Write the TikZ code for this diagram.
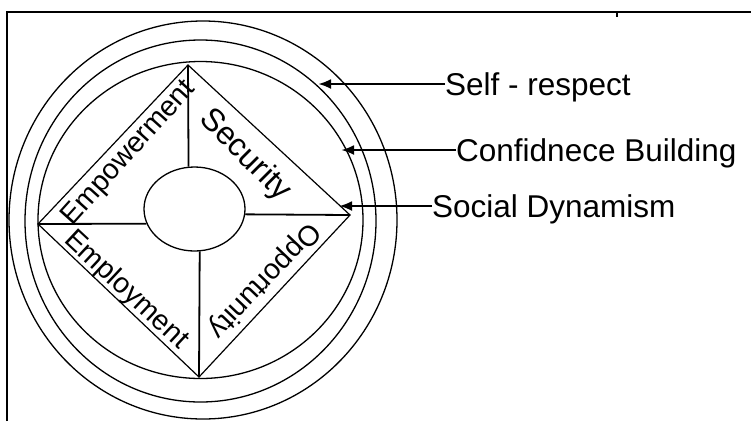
\documentclass[tikz,border=0pt]{standalone}
\usepackage{fontspec}
\setmainfont{Liberation Sans}
\usetikzlibrary{arrows.meta,shapes.geometric}
\begin{document}
\begin{tikzpicture}[x=1pt,y=-1pt,
  ring/.style={line width=1.3pt},
  edge/.style={line width=1.2pt},
  spoke/.style={line width=1.8pt},
  pointer/.style={line width=2.6pt,-{Latex[length=13pt,width=10pt]}},
  lbl/.style={inner sep=0pt,anchor=west,text height=22.5pt,text depth=0pt,font=\fontsize{31.5}{36}\selectfont},
  seg/.style={inner sep=0pt,text height=20.5pt,text depth=0pt,font=\fontsize{28.5}{33}\selectfont}]
\useasboundingbox (0,0) rectangle (751,421);
\fill[white] (0,0) rectangle (751,421);
% frame
\draw[line width=1.5pt] (7,421) -- (7,12) -- (751,12);
\draw[line width=2pt] (617,12) -- (617,17);
% rings
\draw[ring] (203,220) ellipse [x radius=194pt, y radius=199pt];
\draw[ring] (200.5,221) ellipse [x radius=175.5pt, y radius=181pt];
\draw[ring] (200.5,220) ellipse [x radius=162.5pt, y radius=158.5pt];
% diamond
\coordinate (T) at (188,65);
\coordinate (R) at (350,215);
\coordinate (B) at (199,377);
\coordinate (L) at (38,224);
\draw[edge] (T) -- (R) -- (B) -- (L) -- cycle;
% centre
\node[draw,ellipse,line width=1.3pt,minimum width=101pt,minimum height=84pt,inner sep=0pt] (C) at (194.5,209) {};
\draw[spoke] (T) -- (C.98.9);
\draw[spoke] (R) -- (C.-6.9);
\draw[spoke] (B) -- (C.-83.9);
\draw[spoke] (L) -- (C.197.6);
% segment labels
\node[seg,rotate=48] (emp) at (126.5,151) {Empowerment};
\node[seg,rotate=-45,font=\fontsize{32}{36}\selectfont,text height=23pt] (sec) at (247,153) {Security};
\node[seg,rotate=-43] (empl) at (128,288) {Employment};
\node[seg,rotate=226.5] (opp) at (266,282) {Opportunity};
% side labels
\node[lbl] (self) at (445,84) {Self - respect};
\node[lbl] (conf) at (456,150) {Confidnece Building};
\node[lbl] (soc) at (432,206) {Social Dynamism};
\coordinate (t1) at (318,84);
\coordinate (t2) at (341,150);
\coordinate (t3) at (339,206);
\draw[pointer] (self.west) -- (t1);
\draw[pointer] (conf.west) -- (t2);
\draw[pointer] (soc.west) -- (t3);
\end{tikzpicture}
\end{document}
